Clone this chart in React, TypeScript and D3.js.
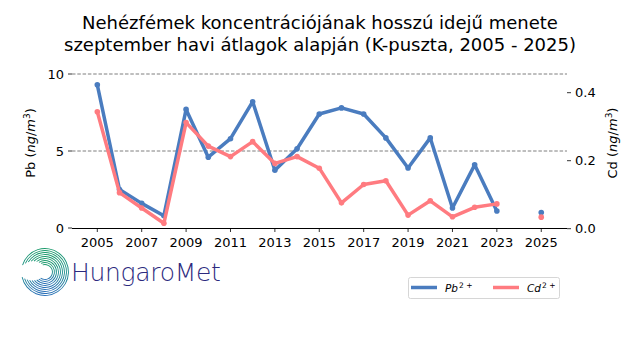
import React from "react";
import * as d3 from "d3";

const years = [2005, 2006, 2007, 2008, 2009, 2010, 2011, 2012, 2013, 2014, 2015, 2016, 2017, 2018, 2019, 2020, 2021, 2022, 2023, 2024, 2025];
const pbValues: (number | null)[] = [9.3, 2.5, 1.6, 0.8, 7.7, 4.6, 5.8, 8.2, 3.75, 5.15, 7.4, 7.8, 7.4, 5.85, 3.9, 5.85, 1.3, 4.1, 1.1, null, 1.0];
const cdValues: (number | null)[] = [0.344, 0.106, 0.061, 0.016, 0.312, 0.243, 0.212, 0.256, 0.192, 0.212, 0.178, 0.076, 0.13, 0.141, 0.04, 0.082, 0.035, 0.063, 0.073, null, 0.034];
const xTicks = [2005, 2007, 2009, 2011, 2013, 2015, 2017, 2019, 2021, 2023, 2025];
const leftTicks = [0, 5, 10];
const rightTicks = [0.0, 0.2, 0.4];
const titleLines = ["Nehézfémek koncentrációjának hosszú idejű menete", "szeptember havi átlagok alapján (K-puszta, 2005 - 2025)"];

const BLUE = "#4a7cbf";
const RED = "#ff7b80";
const FONT = "DejaVu Sans, sans-serif";

export default function App() {
  const x = d3.scaleLinear().domain([2003.86, 2026.16]).range([72, 567]);
  const yL = d3.scaleLinear().domain([0, 10]).range([228, 74]);
  const yR = d3.scaleLinear().domain([0, 0.4]).range([228.7, 92.7]);

  const pts = (vals: (number | null)[]) => years.map((yr, i) => ({ yr, v: vals[i] }));
  const lineL = d3.line<{ yr: number; v: number | null }>().defined(d => d.v != null).x(d => x(d.yr)).y(d => yL(d.v as number));
  const lineR = d3.line<{ yr: number; v: number | null }>().defined(d => d.v != null).x(d => x(d.yr)).y(d => yR(d.v as number));
  const pb = pts(pbValues);
  const cd = pts(cdValues);

  // logo arcs
  const cx = 45, cy = 272;
  const arcs = d3.range(0, 9).map(i => {
    const r = 7 + i * 2;
    const start = -Math.PI * 0.1 - i * 0.12;
    const end = Math.PI * 1.2 + i * 0.09;
    return d3.arc()({ innerRadius: r, outerRadius: r + 0.9, startAngle: start, endAngle: end }) as string;
  });

  return (
    <svg width={640} height={360} style={{ position: "absolute", left: 0, top: 0, background: "#fff" }} fontFamily={FONT}>
      <defs>
        <linearGradient id="lg" x1="0" y1="0" x2="0" y2="1">
          <stop offset="0" stopColor="#1a9a6a" />
          <stop offset="0.5" stopColor="#1a8e8a" />
          <stop offset="1" stopColor="#2a6fb8" />
        </linearGradient>
      </defs>
      {titleLines.map((t, i) => (
        <text key={i} x={320} y={29 + i * 22} textAnchor="middle" fontSize={18} fill="#000">{t}</text>
      ))}
      {/* grid */}
      {leftTicks.filter(t => t > 0).map(t => (
        <line key={t} x1={72} x2={567} y1={yL(t)} y2={yL(t)} stroke="#707070" strokeWidth={0.9} strokeDasharray="3.5,1.8" />
      ))}
      {/* bottom spine */}
      <line x1={72} x2={567} y1={228.5} y2={228.5} stroke="#000" strokeWidth={1} />
      {/* left ticks */}
      {leftTicks.map(t => (
        <g key={t}>
          <line x1={68} x2={72} y1={yL(t)} y2={yL(t)} stroke="#000" strokeWidth={0.8} />
          <text x={64} y={yL(t) + 4.5} textAnchor="end" fontSize={13}>{t}</text>
        </g>
      ))}
      {/* right ticks */}
      {rightTicks.map(t => (
        <g key={t}>
          <line x1={567} x2={571} y1={yR(t)} y2={yR(t)} stroke="#000" strokeWidth={0.8} />
          <text x={575} y={yR(t) + 4.5} textAnchor="start" fontSize={13}>{t.toFixed(1)}</text>
        </g>
      ))}
      {/* x ticks */}
      {xTicks.map(t => (
        <g key={t}>
          <line x1={x(t)} x2={x(t)} y1={228} y2={232} stroke="#000" strokeWidth={0.8} />
          <text x={x(t)} y={247} textAnchor="middle" fontSize={13}>{t}</text>
        </g>
      ))}
      {/* axis labels */}
      <text transform="translate(35,143) rotate(-90)" textAnchor="middle" fontSize={13}>
        Pb (<tspan fontStyle="italic">ng</tspan>/<tspan fontStyle="italic">m</tspan><tspan fontSize={9} dy={-5}>3</tspan><tspan dy={5}>)</tspan>
      </text>
      <text transform="translate(617,143) rotate(-90)" textAnchor="middle" fontSize={13}>
        Cd (<tspan fontStyle="italic">ng</tspan>/<tspan fontStyle="italic">m</tspan><tspan fontSize={9} dy={-5}>3</tspan><tspan dy={5}>)</tspan>
      </text>
      {/* lines */}
      <path d={lineL(pb) || ""} fill="none" stroke={BLUE} strokeWidth={3.5} strokeLinejoin="round" />
      {pb.filter(d => d.v != null).map(d => (
        <circle key={d.yr} cx={x(d.yr)} cy={yL(d.v as number)} r={2.8} fill={BLUE} />
      ))}
      <path d={lineR(cd) || ""} fill="none" stroke={RED} strokeWidth={3.5} strokeLinejoin="round" />
      {cd.filter(d => d.v != null).map(d => (
        <circle key={d.yr} cx={x(d.yr)} cy={yR(d.v as number)} r={2.8} fill={RED} />
      ))}
      {/* legend */}
      <rect x={408.5} y={277.5} width={151} height={21} rx={2} fill="#fff" stroke="#ccc" strokeWidth={0.8} />
      <line x1={411} x2={437} y1={287.5} y2={287.5} stroke={BLUE} strokeWidth={3.5} />
      <circle cx={424} cy={287.5} r={1.5} fill={BLUE} />
      <text x={445} y={292} fontSize={10.5} fontStyle="italic">Pb<tspan fontSize={7.5} dy={-4} fontStyle="normal" dx={1}>2 +</tspan></text>
      <line x1={493} x2={519} y1={287.5} y2={287.5} stroke={RED} strokeWidth={3.5} />
      <circle cx={506} cy={287.5} r={1.5} fill={RED} />
      <text x={527} y={292} fontSize={10.5} fontStyle="italic">Cd<tspan fontSize={7.5} dy={-4} fontStyle="normal" dx={1}>2 +</tspan></text>
      {/* logo */}
      <g transform={`translate(${cx},${cy})`}>
        {arcs.map((d, i) => (
          <path key={i} d={d} fill="url(#lg)" />
        ))}
      </g>
      <text x={71} y={281} fontSize={25} fill="#2c2a7e" fontFamily="DejaVu Sans, sans-serif" fontWeight={300} letterSpacing={-0.3}>HungaroMet</text>
    </svg>
  );
}
